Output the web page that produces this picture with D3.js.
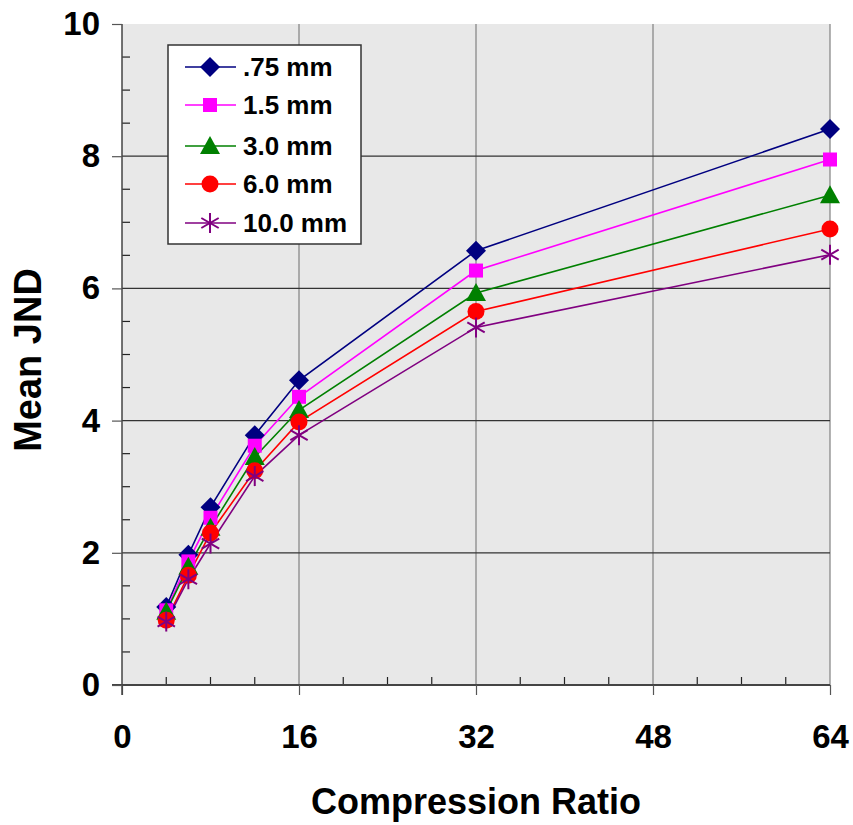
<!DOCTYPE html>
<html><head><meta charset="utf-8">
<script src="https://cdn.jsdelivr.net/npm/d3@7"></script>
<style>body{margin:0;background:#fff;}svg{display:block;font-family:"Liberation Sans",Arial,sans-serif;}</style>
</head><body>
<svg id="c" width="853" height="825"></svg>
<script>
const ratios = [4, 6, 8, 12, 16, 32, 64];
const seriesNames = [".75 mm", "1.5 mm", "3.0 mm", "6.0 mm", "10.0 mm"];
const s075 = [1.18, 1.97, 2.69, 3.78, 4.61, 6.57, 8.41];
const s15  = [1.13, 1.87, 2.53, 3.62, 4.36, 6.27, 7.95];
const s30  = [1.11, 1.79, 2.38, 3.45, 4.16, 5.93, 7.41];
const s60  = [0.98, 1.66, 2.30, 3.24, 3.98, 5.65, 6.90];
const s100 = [0.96, 1.60, 2.14, 3.16, 3.78, 5.41, 6.51];
const xTicks = [0, 16, 32, 48, 64];
const yTicks = [0, 2, 4, 6, 8, 10];
const colors = ["#000080", "#FF00FF", "#008000", "#FF0000", "#800080"];
const symbols = ["diamond", "square", "triangle", "circle", "star"];
const allSeries = [s075, s15, s30, s60, s100];

const svg = d3.select("#c");
const x = d3.scaleLinear().domain([0, 64]).range([122, 830]);
const y = d3.scaleLinear().domain([0, 10]).range([685, 24]);

svg.append("rect").attr("x", x(0)).attr("y", y(10)).attr("width", x(64) - x(0)).attr("height", y(0) - y(10)).attr("fill", "#e8e8e8");

svg.append("g").selectAll("line").data([16, 32, 48, 64]).join("line")
  .attr("x1", d => x(d)).attr("x2", d => x(d)).attr("y1", y(10)).attr("y2", y(0))
  .attr("stroke", "#808080").attr("stroke-width", 1.2);
svg.append("g").selectAll("line").data([2, 4, 6, 8]).join("line")
  .attr("x1", x(0)).attr("x2", x(64)).attr("y1", d => y(d)).attr("y2", d => y(d))
  .attr("stroke", "#333").attr("stroke-width", 1.2);

const xMinor = d3.range(0, 65, 4).filter(v => v % 16 !== 0);
svg.append("g").selectAll("line").data(xMinor).join("line")
  .attr("x1", d => x(d)).attr("x2", d => x(d)).attr("y1", y(0)).attr("y2", y(0) - 8)
  .attr("stroke", "#222").attr("stroke-width", 1.2);
const yMinor = d3.range(0, 10.01, 0.5).filter(v => Math.abs(v % 2) > 0.01);
svg.append("g").selectAll("line").data(yMinor).join("line")
  .attr("x1", x(0)).attr("x2", x(0) + 8).attr("y1", d => y(d)).attr("y2", d => y(d))
  .attr("stroke", "#222").attr("stroke-width", 1.2);

const xAxis = d3.axisBottom(x).tickValues(xTicks).tickSize(10).tickPadding(30);
const gx = svg.append("g").attr("transform", `translate(0,${y(0)})`).call(xAxis);
gx.select(".domain").attr("stroke", "#444").attr("stroke-width", 2).attr("d", `M${x(0)-10},0H${x(64)}`);
gx.selectAll(".tick line").attr("stroke", "#555").attr("stroke-width", 1.2);
gx.selectAll(".tick text").attr("font-size", 33).attr("font-weight", "bold").attr("fill", "#000").attr("font-family", "Liberation Sans, Arial, sans-serif");

const yAxis = d3.axisLeft(y).tickValues(yTicks).tickSize(10).tickPadding(12);
const gy = svg.append("g").attr("transform", `translate(${x(0)},0)`).call(yAxis);
gy.select(".domain").attr("stroke", "#444").attr("stroke-width", 1.5).attr("d", `M0,${y(10)}V${y(0)+10}`);
gy.selectAll(".tick line").attr("stroke", "#555").attr("stroke-width", 1.2);
gy.selectAll(".tick text").attr("font-size", 33).attr("font-weight", "bold").attr("fill", "#000").attr("font-family", "Liberation Sans, Arial, sans-serif");

svg.append("text").attr("x", 476).attr("y", 814).attr("text-anchor", "middle")
  .attr("font-size", 36).attr("font-weight", "bold").text("Compression Ratio");
svg.append("text").attr("transform", `translate(41,360) rotate(-90)`).attr("text-anchor", "middle")
  .attr("font-size", 38).attr("font-weight", "bold").text("Mean JND");

function drawMarker(g, sym, color, cx, cy) {
  if (sym === "diamond") {
    g.append("path").attr("d", `M${cx},${cy-10}L${cx+10},${cy}L${cx},${cy+10}L${cx-10},${cy}Z`).attr("fill", color);
  } else if (sym === "square") {
    g.append("rect").attr("x", cx - 7).attr("y", cy - 7).attr("width", 14).attr("height", 14).attr("fill", color);
  } else if (sym === "triangle") {
    g.append("path").attr("d", `M${cx},${cy-10}L${cx+10},${cy+8}L${cx-10},${cy+8}Z`).attr("fill", color);
  } else if (sym === "circle") {
    g.append("circle").attr("cx", cx).attr("cy", cy).attr("r", 8.5).attr("fill", color);
  } else if (sym === "star") {
    const r = 10;
    const p = [[0, -r], [0, r], [-r*0.87, -r*0.5], [r*0.87, r*0.5], [-r*0.87, r*0.5], [r*0.87, -r*0.5]];
    for (let i = 0; i < p.length; i += 2) {
      g.append("line").attr("x1", cx + p[i][0]).attr("y1", cy + p[i][1]).attr("x2", cx + p[i+1][0]).attr("y2", cy + p[i+1][1])
        .attr("stroke", color).attr("stroke-width", 2);
    }
  }
}

const line = d3.line().x(d => x(d[0])).y(d => y(d[1]));
allSeries.forEach((vals, i) => {
  const pts = ratios.map((r, j) => [r, vals[j]]);
  svg.append("path").attr("d", line(pts)).attr("fill", "none").attr("stroke", colors[i]).attr("stroke-width", 1.6);
});
allSeries.forEach((vals, i) => {
  const g = svg.append("g");
  ratios.forEach((r, j) => drawMarker(g, symbols[i], colors[i], x(r), y(vals[j])));
});

const lg = svg.append("g");
lg.append("rect").attr("x", 168).attr("y", 45).attr("width", 193).attr("height", 199)
  .attr("fill", "#fff").attr("stroke", "#333").attr("stroke-width", 1.5);
const rowsY = [67, 105, 146, 184, 223];
seriesNames.forEach((name, i) => {
  const cy = rowsY[i];
  lg.append("line").attr("x1", 185).attr("x2", 236).attr("y1", cy).attr("y2", cy).attr("stroke", colors[i]).attr("stroke-width", 1.6);
  drawMarker(lg, symbols[i], colors[i], 210, cy);
  lg.append("text").attr("x", 243).attr("y", cy + 9).attr("font-size", 26).attr("font-weight", "bold").text(name);
});
</script>
</body></html>
